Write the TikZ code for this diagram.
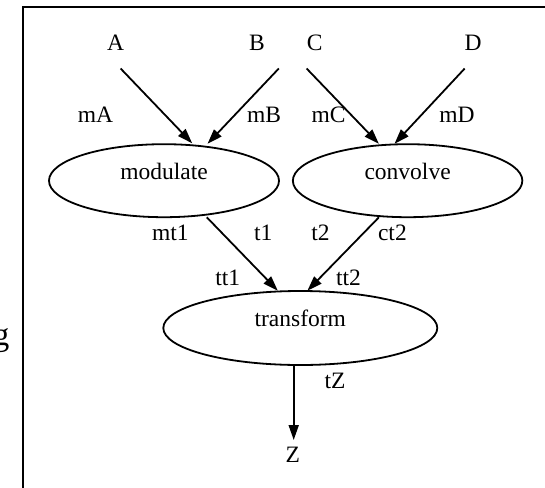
\documentclass[tikz,border=0pt]{standalone}
\usepackage{fontspec}
\setmainfont{Liberation Serif}
\usetikzlibrary{shapes.geometric,arrows.meta}
\begin{document}
\begin{tikzpicture}[x=1pt,y=-1pt,
  lbl/.style={anchor=base,inner sep=0pt,font=\fontsize{23.5}{28}\selectfont},
  proc/.style={ellipse,draw,line width=1.8pt,inner sep=0pt,text height=10pt,text depth=12.8pt,font=\fontsize{23.5}{28}\selectfont},
  edge/.style={line width=1.8pt,-{Triangle[length=15pt,width=10pt]}}]
\useasboundingbox (0,0) rectangle (545,487);
% frame
\draw[line width=2pt,line join=miter] (22.7,488) -- (22.7,6.7) -- (546,6.7);
\node[anchor=base east,inner sep=0pt,font=\fontsize{33}{38}\selectfont] (g) at (9.7,345) {g};
% input labels
\node[lbl] (A) at (115.7,50) {A};
\node[lbl] (B) at (257,50) {B};
\node[lbl] (C) at (314.6,50) {C};
\node[lbl] (D) at (473,50) {D};
% ellipses
\node[proc,minimum width=230pt,minimum height=73pt] (modulate) at (164,180.7) {modulate};
\node[proc,minimum width=229.5pt,minimum height=73pt] (convolve) at (407.6,180.7) {convolve};
\node[proc,minimum width=274pt,minimum height=74pt] (transform) at (300.3,328) {transform};
\node[lbl] (Z) at (292.7,462.7) {Z};
% port coordinates
\coordinate (Aout) at (120.6,68.5);
\coordinate (Bout) at (278.8,68.5);
\coordinate (Cout) at (306.6,68.5);
\coordinate (Dout) at (464.7,68.5);
\coordinate (mAin) at (192.2,143.3);
\coordinate (mBin) at (207.5,143.8);
\coordinate (cCin) at (378.9,143.8);
\coordinate (cDin) at (394.5,143.8);
\coordinate (mout) at (206.8,217.3);
\coordinate (cout) at (378.9,217.3);
\coordinate (t1in) at (277.8,290.7);
\coordinate (t2in) at (307.4,290.7);
\coordinate (tout) at (293.7,365.5);
\coordinate (Zin) at (293.7,440);
% edges
\draw[edge] (Aout) -- (mAin);
\draw[edge] (Bout) -- (mBin);
\draw[edge] (Cout) -- (cCin);
\draw[edge] (Dout) -- (cDin);
\draw[edge] (mout) -- (t1in);
\draw[edge] (cout) -- (t2in);
\draw[edge] (tout) -- (Zin);
% port labels
\node[lbl] (mA) at (95.4,122.7) {mA};
\node[lbl] (mB) at (264,122.7) {mB};
\node[lbl] (mC) at (328.6,122.7) {mC};
\node[lbl] (mD) at (457,122.7) {mD};
\node[lbl] (mt1) at (170.3,240.7) {mt1};
\node[lbl] (t1) at (263.3,240.7) {t1};
\node[lbl] (t2) at (320.6,240.7) {t2};
\node[lbl] (ct2) at (392.4,240.7) {ct2};
\node[lbl] (tt1) at (227.7,285.3) {tt1};
\node[lbl] (tt2) at (348.5,285.3) {tt2};
\node[lbl] (tZ) at (335,388.3) {tZ};
\end{tikzpicture}
\end{document}
